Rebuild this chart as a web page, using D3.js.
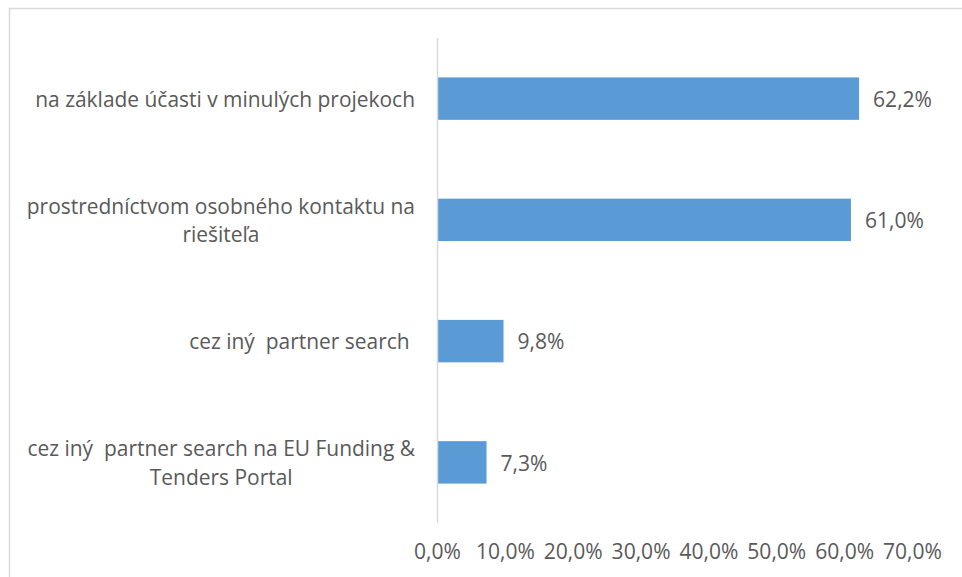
<!DOCTYPE html>
<html><head><meta charset="utf-8">
<script src="https://cdn.jsdelivr.net/npm/d3@7"></script>
<style>html,body{margin:0;padding:0;background:#fff;}svg{display:block;}</style>
</head><body>
<script>
const categories = [
  ["na základe účasti v minulých projekoch"],
  ["prostredníctvom osobného kontaktu na", "riešiteľa"],
  ["cez iný  partner search "],
  ["cez iný  partner search na EU Funding &", "Tenders Portal"]
];
const values = [0.622, 0.610, 0.098, 0.073];
const valueLabels = ["62,2%", "61,0%", "9,8%", "7,3%"];
const tickValues = [0, 0.1, 0.2, 0.3, 0.4, 0.5, 0.6, 0.7];
const tickLabels = ["0,0%", "10,0%", "20,0%", "30,0%", "40,0%", "50,0%", "60,0%", "70,0%"];

const W = 962, H = 577;
const font = "'Open Sans', Lato, sans-serif";
const textColor = "#595959";

const svg = d3.select("body").append("svg").attr("width", W).attr("height", H)
  .style("font-family", font);

const probe = svg.append("text").style("font-size", "20px").text(categories[0][0]);
const fs = 20 * 380 / probe.node().getComputedTextLength();
probe.remove();
const probe2 = svg.append("text").style("font-size", "20px").text("70,0%");
const fsTick = 20 * 59 / probe2.node().getComputedTextLength();
probe2.remove();

svg.append("rect").attr("x", 9.5).attr("y", 8.5).attr("width", W).attr("height", H)
  .attr("fill", "#fff").attr("stroke", "#d9d9d9").attr("stroke-width", 1.5);

const x = d3.scaleLinear().domain([0, 0.7]).range([437, 912]);
const y = d3.scaleBand().domain(d3.range(categories.length)).range([38, 523]).paddingInner(0.65).paddingOuter(0.325);

svg.selectAll("rect.bar").data(values).join("rect").attr("class", "bar")
  .attr("x", x(0)).attr("y", (d, i) => y(i))
  .attr("width", d => x(d) - x(0)).attr("height", y.bandwidth())
  .attr("fill", "#5b9bd5");

svg.append("line").attr("x1", x(0) + 0.5).attr("x2", x(0) + 0.5).attr("y1", 38).attr("y2", 523)
  .attr("stroke", "#d9d9d9").attr("stroke-width", 1.5);

const xAxis = d3.axisBottom(x).tickValues(tickValues).tickFormat((d, i) => tickLabels[i]).tickSize(0).tickPadding(0);
const gx = svg.append("g").attr("transform", "translate(0,544)").call(xAxis);
gx.select(".domain").remove();
gx.selectAll("text").attr("fill", textColor).style("font-size", fsTick + "px").style("font-family", font);

svg.selectAll("text.val").data(values).join("text").attr("class", "val")
  .attr("x", d => x(d) + 14).attr("y", (d, i) => y(i) + y.bandwidth() / 2 + 1)
  .attr("dy", "0.35em").attr("fill", textColor).style("font-size", fsTick + "px")
  .text((d, i) => valueLabels[i]);

const rightEdge = 415;
const lineH = 28.5;
categories.forEach((lines, i) => {
  const cy = y(i) + y.bandwidth() / 2 + 1;
  const g = svg.append("g");
  const texts = lines.map((l, j) => g.append("text")
    .attr("y", cy + (j - (lines.length - 1) / 2) * lineH)
    .attr("dy", "0.35em").attr("fill", textColor).style("font-size", fs + "px")
    .style("white-space", "pre").attr("xml:space", "preserve")
    .text(l));
  const widths = texts.map(t => t.node().getComputedTextLength());
  const maxW = d3.max(widths);
  const cx = rightEdge - maxW / 2;
  texts.forEach(t => t.attr("x", cx).attr("text-anchor", "middle"));
});
</script>
</body></html>
